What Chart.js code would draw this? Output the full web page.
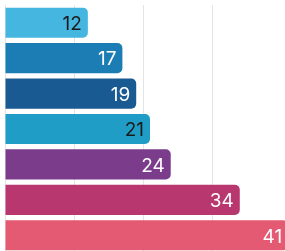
<!DOCTYPE html>
<html>
<head>
<meta charset="utf-8">
<script src="https://cdn.jsdelivr.net/npm/chart.js@4"></script>
<style>
html,body{margin:0;padding:0;background:#fff;overflow:hidden;width:285px;height:251px;}
canvas{display:block;}
</style>
</head>
<body>
<canvas id="c" width="304" height="253" style="width:304px;height:253px"></canvas>
<script>
const categories = ['1', '2', '3', '4', '5', '6', '7'];
const values = [12, 17, 19, 21, 24, 34, 41];
const barColors = ['#45b6e0', '#1b7db3', '#1a5a92', '#1f9dc6', '#7a3c8b', '#b8376f', '#e35a72'];
const labelColors = ['#1a1a1a', '#ffffff', '#ffffff', '#1a1a1a', '#ffffff', '#ffffff', '#ffffff'];

const valueLabels = {
  id: 'valueLabels',
  afterDatasetsDraw(chart) {
    const ctx = chart.ctx;
    const meta = chart.getDatasetMeta(0);
    ctx.save();
    ctx.font = '19px Inter';
    ctx.textAlign = 'right';
    ctx.textBaseline = 'middle';
    meta.data.forEach((bar, i) => {
      ctx.fillStyle = labelColors[i];
      ctx.fillText(String(values[i]), bar.x - 6, bar.y + 1.5);
    });
    ctx.restore();
  }
};

new Chart(document.getElementById('c'), {
  type: 'bar',
  data: {
    labels: categories,
    datasets: [{
      data: values,
      backgroundColor: barColors,
      borderRadius: 5,
      borderSkipped: 'start',
      barPercentage: 0.85,
      categoryPercentage: 1.0
    }]
  },
  options: {
    indexAxis: 'y',
    responsive: false,
    animation: false,
    layout: { padding: { left: 5, top: 5, right: 0, bottom: 0 } },
    plugins: { legend: { display: false }, tooltip: { enabled: false } },
    scales: {
      x: {
        min: 0, max: 43.3,
        ticks: { display: false, stepSize: 10 },
        grid: { color: '#e4e4e4', lineWidth: 1, drawTicks: false },
        border: { display: false }
      },
      y: {
        ticks: { display: false },
        grid: { display: false, drawTicks: false },
        border: { display: false }
      }
    }
  },
  plugins: [valueLabels]
});
</script>
</body>
</html>
